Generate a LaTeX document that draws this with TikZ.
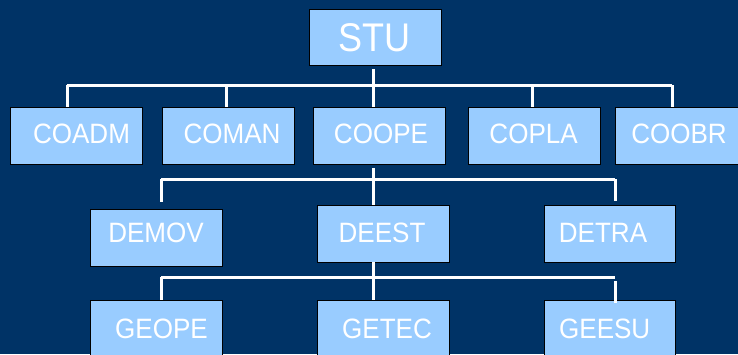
\documentclass[tikz,border=0pt]{standalone}
\usepackage{fontspec}
\setmainfont{Liberation Sans}
\definecolor{bg}{HTML}{003366}
\definecolor{boxfill}{HTML}{99CCFF}
\newcommand\narrowtxt[2]{\scalebox{#1}[1]{#2}}
\tikzset{
  box/.style={draw=black, line width=0.8pt, fill=boxfill, minimum width=132pt, minimum height=57pt, inner sep=0pt},
  lbl/.style={text=white, inner sep=0pt, font=\fontsize{28}{28}\selectfont},
  biglbl/.style={text=white, inner sep=0pt, font=\fontsize{40}{40}\selectfont},
  conn/.style={draw=white, line width=3pt}
}
\begin{document}
\begin{tikzpicture}[x=1pt,y=-1pt]
\fill[bg] (0,0) rectangle (738,354);
\useasboundingbox (0,0) rectangle (738,354);
\begin{scope}
\clip (0,0) rectangle (738,354);
% boxes
\node[box, minimum height=56pt] (stu) at (375,37) {};
\node[box] (coadm) at (76.5,135.5) {};
\node[box] (coman) at (228,135.5) {};
\node[box] (coope) at (379,135.5) {};
\node[box] (copla) at (534,135.5) {};
\node[box] (coobr) at (681.5,135.5) {};
\node[box] (demov) at (156,237.5) {};
\node[box] (deest) at (383,234) {};
\node[box, minimum width=131pt] (detra) at (609.5,234) {};
\node[box] (geope) at (156,328.5) {};
\node[box] (getec) at (383,328.5) {};
\node[box, minimum width=131pt] (geesu) at (609.5,328.5) {};
% labels
\node[biglbl] (tstu) at (374,37.5) {\narrowtxt{0.9}{STU}};
\node[lbl] (tcoadm) at (81.5,134) {\narrowtxt{0.93}{COADM}};
\node[lbl] (tcoman) at (232,134) {\narrowtxt{0.93}{COMAN}};
\node[lbl] (tcoope) at (381,134) {\narrowtxt{0.93}{COOPE}};
\node[lbl] (tcopla) at (533.6,134) {\narrowtxt{0.93}{COPLA}};
\node[lbl] (tcoobr) at (679,134) {\narrowtxt{0.93}{COOBR}};
\node[lbl] (tdemov) at (156,233) {\narrowtxt{0.93}{DEMOV}};
\node[lbl] (tdeest) at (382,233) {\narrowtxt{0.93}{DEEST}};
\node[lbl] (tdetra) at (603,233) {\narrowtxt{0.93}{DETRA}};
\node[lbl] (tgeope) at (161.5,329) {\narrowtxt{0.93}{GEOPE}};
\node[lbl] (tgetec) at (387,329) {\narrowtxt{0.93}{GETEC}};
\node[lbl] (tgeesu) at (604.7,329) {\narrowtxt{0.93}{GEESU}};
% level 1 connectors
\coordinate (s0) at (373.6,69);
\coordinate (h1l) at (67,85);
\coordinate (h1r) at (672,85);
\coordinate (c1) at (226,85);
\coordinate (c3) at (373.6,85);
\coordinate (c4) at (532,85);
\draw[conn] (s0) -- (s0 |- coope.north);
\draw[conn] (h1l) -- (h1r);
\draw[conn] (h1l) -- (h1l |- coadm.north);
\draw[conn] (c1) -- (c1 |- coman.north);
\draw[conn] (c4) -- (c4 |- copla.north);
\draw[conn] (h1r) -- (h1r |- coobr.north);
% level 2 connectors
\coordinate (d0) at (373.6,168);
\coordinate (h2l) at (161,179);
\coordinate (h2r) at (615,179);
\draw[conn] (d0) -- (d0 |- deest.north);
\draw[conn] (h2l) -- (h2r);
\draw[conn] (h2l) -- (161,201.7);
\draw[conn] (h2r) -- (615,201);
% level 3 connectors
\coordinate (g0) at (373.6,262);
\coordinate (h3l) at (161,277);
\coordinate (h3r) at (615,277);
\coordinate (g3) at (615,281);
\draw[conn] (g0) -- (g0 |- getec.north);
\draw[conn] (h3l) -- (h3r);
\draw[conn] (h3l) -- (161,299.5);
\draw[conn] (g3) -- (615,303);
\end{scope}
\end{tikzpicture}
\end{document}
